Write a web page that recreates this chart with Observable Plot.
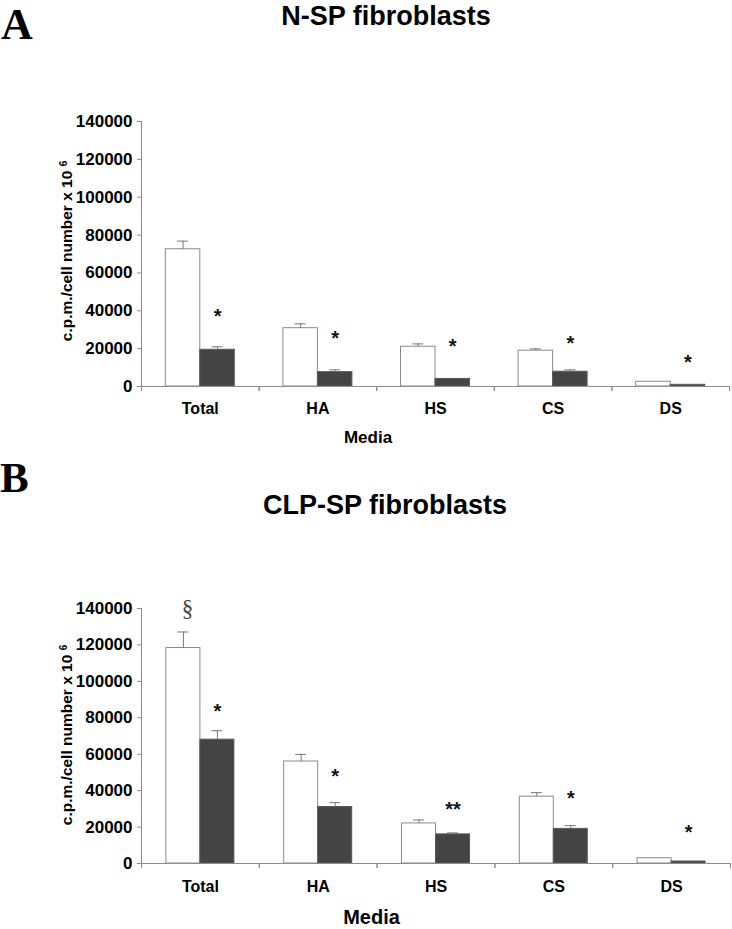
<!DOCTYPE html>
<html>
<head>
<meta charset="utf-8">
<script src="https://cdn.jsdelivr.net/npm/d3@7"></script>
<script src="https://cdn.jsdelivr.net/npm/@observablehq/plot@0.6"></script>
<style>
  body { margin: 0; background: #fff; }
  #root { position: relative; width: 732px; height: 929px; overflow: hidden; background: #fff;
          font-family: "Liberation Sans", Arial, sans-serif; color: #000; }
  .abs { position: absolute; white-space: nowrap; line-height: 1; }
  .letter { font-family: "Liberation Serif", "Times New Roman", serif; font-weight: bold; line-height: 0.75; }
  .title { font-weight: bold; font-size: 27px; transform: translateX(-50%); }
  .media { font-weight: bold; transform: translateX(-50%); line-height: 0.75; }
  .ylab { font-weight: bold; font-size: 15.5px; transform: translate(-50%, -50%) rotate(-90deg); }
  .ylab sup { font-size: 10px; vertical-align: 0.55em; line-height: 0; }
  .chart { position: absolute; left: 0; }
</style>
</head>
<body>
<div id="root">
  <div class="abs letter" style="left:1px; top:8.2px; font-size:44px;">A</div>
  <div class="abs title" style="left:386px; top:3px;">N-SP fibroblasts</div>
  <div class="abs ylab" style="left:67px; top:251px;">c.p.m./cell number x 10 <sup>6</sup></div>
  <div class="abs media" style="left:368px; top:431.8px; font-size:17px;">Media</div>

  <div class="abs letter" style="left:0px; top:462.4px; font-size:43px;">B</div>
  <div class="abs title" style="left:385px; top:492px;">CLP-SP fibroblasts</div>
  <div class="abs ylab" style="left:67px; top:735px;">c.p.m./cell number x 10 <sup>6</sup></div>
  <div class="abs media" style="left:371.5px; top:910px; font-size:20px;">Media</div>
</div>
<script>
// ---------------- data ----------------
const categories = ["Total", "HA", "HS", "CS", "DS"];
const yTicks = [0, 20000, 40000, 60000, 80000, 100000, 120000, 140000];

// Panel A: N-SP fibroblasts (white = control, dark = treated)
const nspControl     = [72500, 30800, 21000, 18900, 2500];
const nspControlErr  = [4300, 2300, 1500, 1000, 0];
const nspTreated     = [19400, 7600, 4000, 7800, 900];
const nspTreatedErr  = [1600, 1200, 0, 1000, 0];
const nspControlMark = ["", "", "", "", ""];
const nspControlMarkY = [0, 0, 0, 0, 0];
const nspTreatedMark = ["*", "*", "*", "*", "*"];
const nspTreatedMarkY = [39800, 28000, 23800, 25400, 15300];

// Panel B: CLP-SP fibroblasts
const clpControl     = [118300, 56000, 22000, 36700, 2900];
const clpControlErr  = [8800, 3900, 1900, 2200, 0];
const clpTreated     = [68000, 31000, 16000, 19000, 1100];
const clpTreatedErr  = [4900, 2400, 800, 1800, 0];
const clpControlMark = ["§", "", "", "", ""];
const clpControlMarkY = [140000, 0, 0, 0, 0];
const clpTreatedMark = ["*", "*", "**", "*", "*"];
const clpTreatedMarkY = [86200, 50500, 32500, 38500, 19900];

// ---------------- drawing ----------------
const axisGray = "#8c8c8c";

function panel(cfg) {
  const rows = categories.map((c, i) => ({
    cat: c,
    control: cfg.control[i], controlTop: cfg.control[i] + cfg.controlErr[i], controlErr: cfg.controlErr[i],
    treated: cfg.treated[i], treatedTop: cfg.treated[i] + cfg.treatedErr[i], treatedErr: cfg.treatedErr[i],
    cMark: cfg.controlMark[i], cMarkY: cfg.controlMarkY[i],
    tMark: cfg.treatedMark[i], tMarkY: cfg.treatedMarkY[i]
  }));
  const W = 732;
  const step = (W - cfg.ml - cfg.mr) / categories.length;
  const half = step / 2;
  const bw = cfg.bw;
  const capW = 11;
  const capInset = (step - capW) / 2;
  const cErr = rows.filter(d => d.controlErr > 0);
  const tErr = rows.filter(d => d.treatedErr > 0);
  return Plot.plot({
    width: W,
    height: cfg.height,
    marginLeft: cfg.ml,
    marginRight: cfg.mr,
    marginTop: cfg.mt,
    marginBottom: cfg.mb,
    style: { background: "transparent", fontFamily: "'Liberation Sans', Arial, sans-serif", color: "#000" },
    x: { type: "band", domain: categories, padding: 0, round: false },
    y: { domain: [0, 140000] },
    marks: [
      Plot.frame({ anchor: "left", stroke: axisGray }),
      Plot.axisY({ ticks: yTicks, tickFormat: d3.format("d"), tickSize: 4, tickPadding: 5,
                   fontSize: 17, fontWeight: "bold", stroke: axisGray, fill: "#000", label: null }),
      Plot.axisX({ tickSize: 0, tickPadding: cfg.xPad, fontSize: 16, fontWeight: "bold",
                   fill: "#000", stroke: "none", label: null }),
      Plot.axisX({ tickSize: 5, tickFormat: () => "", dx: -half, stroke: axisGray, label: null }),
      Plot.axisX({ tickSize: 5, tickFormat: () => "", dx: half, stroke: axisGray, label: null }),
      Plot.barY(rows, { x: "cat", y: "control", fill: "#fff", stroke: "#8a8a8a", strokeWidth: 1,
                        insetLeft: half - bw, insetRight: half }),
      Plot.barY(rows, { x: "cat", y: "treated", fill: "#444", stroke: "#5a5a5a", strokeWidth: 1,
                        insetLeft: half, insetRight: half - bw }),
      Plot.ruleY([0], { stroke: axisGray }),
      Plot.ruleX(cErr, { x: "cat", y1: "control", y2: "controlTop", dx: -bw / 2, stroke: "#777" }),
      Plot.tickY(cErr, { x: "cat", y: "controlTop", dx: -bw / 2, insetLeft: capInset, insetRight: capInset, stroke: "#777" }),
      Plot.ruleX(tErr, { x: "cat", y1: "treated", y2: "treatedTop", dx: bw / 2, stroke: "#777" }),
      Plot.tickY(tErr, { x: "cat", y: "treatedTop", dx: bw / 2, insetLeft: capInset, insetRight: capInset, stroke: "#777" }),
      Plot.text(rows.filter(d => d.tMark), { x: "cat", y: "tMarkY", text: "tMark", dx: bw / 2, dy: 5,
                        fontSize: 20, fontWeight: "bold", fill: "#111" }),
      Plot.text(rows.filter(d => d.cMark), { x: "cat", y: "cMarkY", text: "cMark", dx: -bw / 2 + 4,
                        fontSize: 23, fontFamily: "'Liberation Serif', serif", fill: "#444" })
    ]
  });
}

const root = document.getElementById("root");

const chartA = panel({
  control: nspControl, controlErr: nspControlErr, treated: nspTreated, treatedErr: nspTreatedErr,
  controlMark: nspControlMark, controlMarkY: nspControlMarkY,
  treatedMark: nspTreatedMark, treatedMarkY: nspTreatedMarkY,
  height: 350, mt: 21, mb: 64, ml: 141, mr: 3, bw: 34.5, xPad: 16
});
chartA.classList.add("chart");
chartA.style.top = "100px";
root.appendChild(chartA);

const chartB = panel({
  control: clpControl, controlErr: clpControlErr, treated: clpTreated, treatedErr: clpTreatedErr,
  controlMark: clpControlMark, controlMarkY: clpControlMarkY,
  treatedMark: clpTreatedMark, treatedMarkY: clpTreatedMarkY,
  height: 349, mt: 28, mb: 66, ml: 141, mr: 2, bw: 34, xPad: 17
});
chartB.classList.add("chart");
chartB.style.top = "580px";
root.appendChild(chartB);
</script>
</body>
</html>
